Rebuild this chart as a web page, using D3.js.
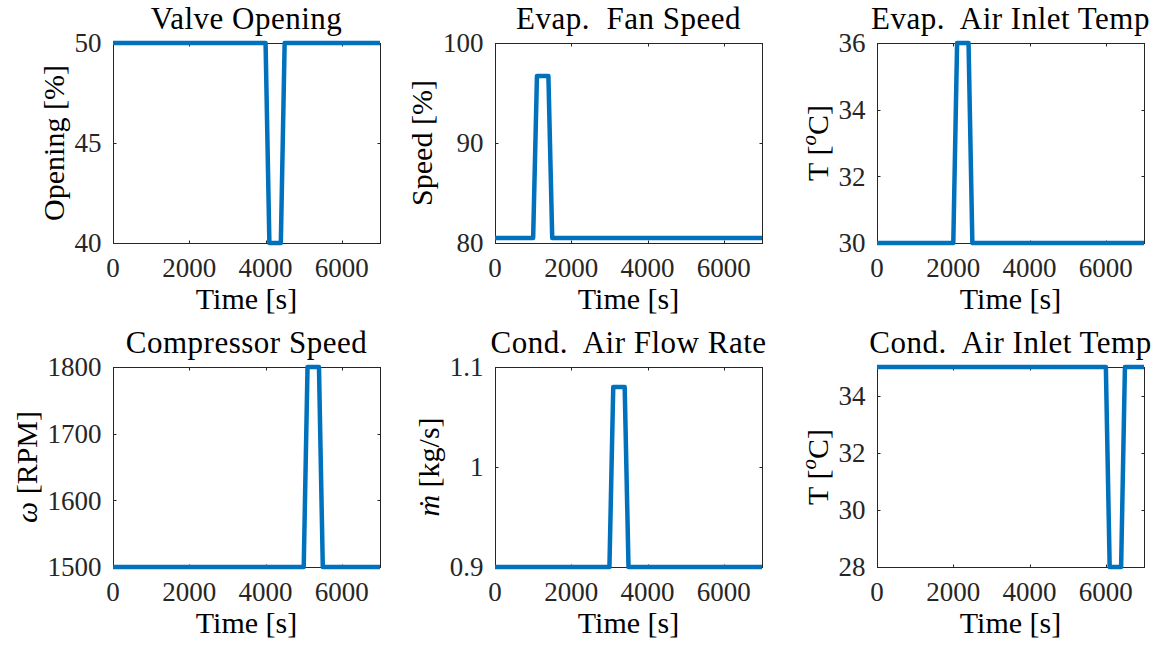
<!DOCTYPE html>
<html>
<head>
<meta charset="utf-8">
<script src="https://cdn.jsdelivr.net/npm/d3@7"></script>
<style>
  body { margin: 0; background: #fff; }
</style>
</head>
<body>
<div id="chart"></div>
<script>
// ---- data ----
const timeTicks = [0, 2000, 4000, 6000];
const timeRange = [0, 7000];

const valveTime = [0, 4000, 4100, 4400, 4500, 7000];
const valveOpening = [50, 50, 40, 40, 50, 50];

const fanTime = [0, 1000, 1100, 1400, 1500, 7000];
const fanSpeed = [80.5, 80.5, 96.7, 96.7, 80.5, 80.5];

const evapTime = [0, 2000, 2100, 2400, 2500, 7000];
const evapTemp = [30, 30, 36, 36, 30, 30];

const compTime = [0, 5000, 5100, 5400, 5500, 7000];
const compSpeed = [1500, 1500, 1800, 1800, 1500, 1500];

const condFlowTime = [0, 3000, 3100, 3400, 3500, 7000];
const condFlow = [0.9, 0.9, 1.08, 1.08, 0.9, 0.9];

const condTempTime = [0, 6000, 6100, 6400, 6500, 7000];
const condTemp = [35, 35, 28, 28, 35, 35];

const titles = ["Valve Opening", "Evap.  Fan Speed", "Evap.  Air Inlet Temp",
                "Compressor Speed", "Cond.  Air Flow Rate", "Cond.  Air Inlet Temp"];
const yDomains = [[40, 50], [80, 100], [30, 36], [1500, 1800], [0.9, 1.1], [28, 35]];
const yTicks = [[40, 45, 50], [80, 90, 100], [30, 32, 34, 36],
                [1500, 1600, 1700, 1800], [0.9, 1, 1.1], [28, 30, 32, 34]];
// label pieces: [text, style] where style: "" normal, "i" italic, "sup" italic superscript
const yLabels = [
    [["Opening [%]", ""]],
    [["Speed [%]", ""]],
    [["T [", ""], ["o", "sup"], ["C]", "down"]],
    [["ω", "i"], [" [RPM]", ""]],
    [["ṁ", "i"], [" [kg/s]", ""]],
    [["T [", ""], ["o", "sup"], ["C]", "down"]]
];
const series = [
    [valveTime, valveOpening],
    [fanTime, fanSpeed],
    [evapTime, evapTemp],
    [compTime, compSpeed],
    [condFlowTime, condFlow],
    [condTempTime, condTemp]
];

// ---- layout ----
const svgWidth = 1167, svgHeight = 645;
const axW = 267, axH = 200;
const lefts = [113, 495, 877];
const tops = [43, 367];
const axisColor = "#262626";
const lineColor = "#0072BD";
const fontFam = "'Liberation Serif', 'DejaVu Serif', serif";

const svg = d3.select("#chart").append("svg")
    .attr("width", svgWidth)
    .attr("height", svgHeight)
    .attr("font-family", fontFam)
    .style("font-family", fontFam);

series.forEach(function(s, i) {
    let col = i % 3, row = Math.floor(i / 3);
    let g = svg.append("g")
        .attr("transform", "translate(" + lefts[col] + "," + tops[row] + ")");

    let x = d3.scaleLinear().domain(timeRange).range([0, axW]);
    let y = d3.scaleLinear().domain(yDomains[i]).range([axH, 0]);

    // box
    g.append("rect")
        .attr("x", 0.5).attr("y", 0.5)
        .attr("width", axW).attr("height", axH)
        .attr("fill", "none")
        .attr("stroke", axisColor)
        .attr("stroke-width", 1);

    // ticks (inside, both sides)
    let tl = 3;
    timeTicks.forEach(function(t) {
        let px = Math.round(x(t)) + 0.5;
        g.append("line").attr("x1", px).attr("x2", px).attr("y1", axH + 0.5).attr("y2", axH + 0.5 - tl)
            .attr("stroke", axisColor);
        g.append("line").attr("x1", px).attr("x2", px).attr("y1", 0.5).attr("y2", 0.5 + tl)
            .attr("stroke", axisColor);
        g.append("text")
            .attr("x", x(t)).attr("y", axH + 34)
            .attr("text-anchor", "middle")
            .attr("font-size", 27)
            .attr("fill", axisColor)
            .text(t);
    });

    let tickLabelW = 0;
    yTicks[i].forEach(function(v) {
        let py = Math.round(y(v)) + 0.5;
        g.append("line").attr("x1", 0.5).attr("x2", 0.5 + tl).attr("y1", py).attr("y2", py)
            .attr("stroke", axisColor);
        g.append("line").attr("x1", axW + 0.5).attr("x2", axW + 0.5 - tl).attr("y1", py).attr("y2", py)
            .attr("stroke", axisColor);
        let lbl = g.append("text")
            .attr("x", -11.5).attr("y", y(v))
            .attr("dy", "0.35em")
            .attr("text-anchor", "end")
            .attr("font-size", 27)
            .attr("fill", axisColor)
            .text(String(v));
        tickLabelW = Math.max(tickLabelW, lbl.node().getComputedTextLength());
    });

    // data line
    let line = d3.line()
        .x(function(d) { return x(d[0]); })
        .y(function(d) { return y(d[1]); });
    g.append("path")
        .datum(d3.zip(s[0], s[1]))
        .attr("d", line)
        .attr("fill", "none")
        .attr("stroke", lineColor)
        .attr("stroke-width", 4.5)
        .attr("stroke-linejoin", "round");

    // title
    g.append("text")
        .attr("x", axW / 2).attr("y", -14)
        .attr("text-anchor", "middle")
        .attr("font-size", 31)
        .attr("letter-spacing", 0.5)
        .attr("fill", "#000")
        .style("white-space", "pre")
        .text(titles[i]);

    // x label
    g.append("text")
        .attr("x", axW / 2).attr("y", axH + 66)
        .attr("text-anchor", "middle")
        .attr("font-size", 30)
        .attr("fill", "#000")
        .text("Time [s]");

    // y label
    let labelX = -11.5 - tickLabelW - 11;
    let yl = g.append("text")
        .attr("transform", "translate(" + labelX + "," + (axH / 2) + ") rotate(-90)")
        .attr("text-anchor", "middle")
        .attr("font-size", 30)
        .attr("fill", "#000");
    yLabels[i].forEach(function(p) {
        let ts = yl.append("tspan").text(p[0]);
        if (p[1] === "i") {
            ts.attr("font-style", "italic");
        } else if (p[1] === "sup") {
            ts.attr("font-style", "italic")
                .attr("font-size", 21)
                .attr("dy", -12);
        } else if (p[1] === "down") {
            ts.attr("dy", 12);
        }
    });
});
</script>
</body>
</html>
